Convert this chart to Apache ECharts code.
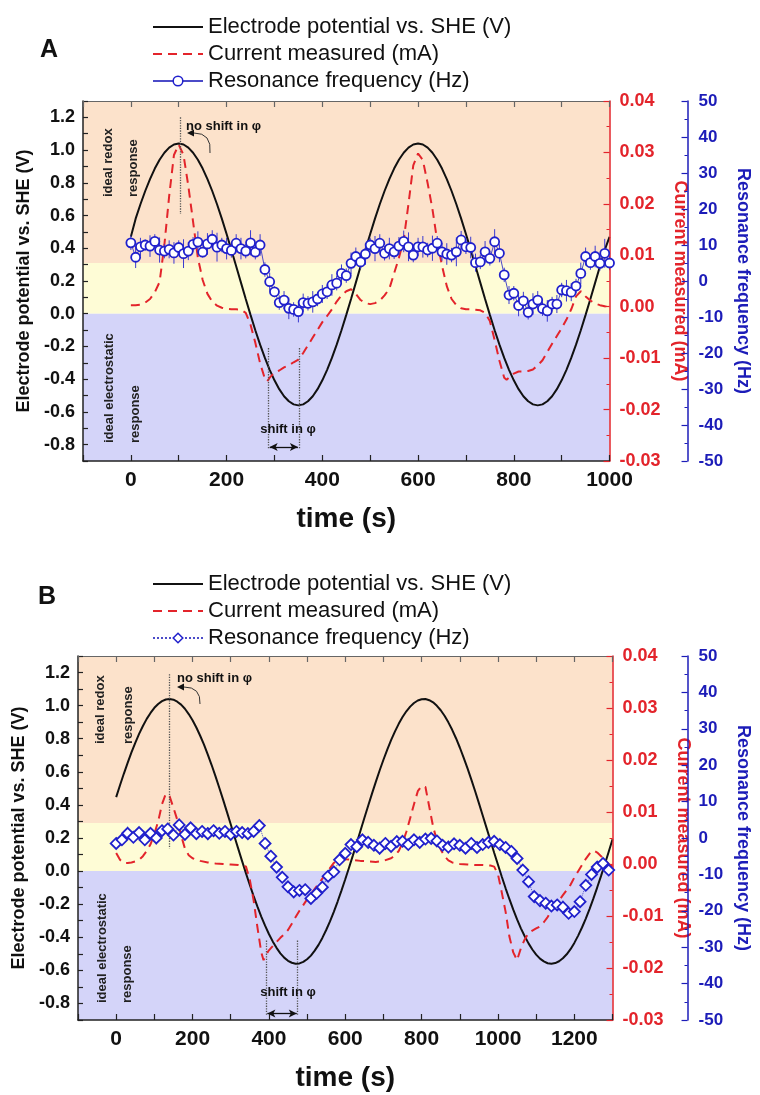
<!DOCTYPE html>
<html><head><meta charset="utf-8">
<script src="https://cdn.jsdelivr.net/npm/echarts@6.0.0/dist/echarts.min.js"></script>
<style>html,body{margin:0;padding:0;background:#fff}#c{width:760px;height:1095px}</style>
</head><body><div id="c"></div>
<script>
const FONT = '"Liberation Sans", Arial, Helvetica, sans-serif';

// ---------- Panel A data ----------
const timeA = [0,10,20,30,40,50,60,70,80,90,100,110,120,130,140,150,160,170,180,190,200,210,220,230,240,250,260,270,280,290,300,310,320,330,340,350,360,370,380,390,400,410,420,430,440,450,460,470,480,490,500,510,520,530,540,550,560,570,580,590,600,610,620,630,640,650,660,670,680,690,700,710,720,730,740,750,760,770,780,790,800,810,820,830,840,850,860,870,880,890,900,910,920,930,940,950,960,970,980,990,1000];
const potentialA = [0.47,0.581,0.669,0.750,0.823,0.887,0.941,0.984,1.015,1.034,1.040,1.034,1.015,0.984,0.941,0.887,0.823,0.750,0.669,0.581,0.487,0.390,0.290,0.190,0.090,-0.007,-0.101,-0.189,-0.270,-0.343,-0.407,-0.461,-0.504,-0.535,-0.554,-0.560,-0.554,-0.535,-0.504,-0.461,-0.407,-0.343,-0.270,-0.189,-0.101,-0.007,0.090,0.190,0.290,0.390,0.487,0.581,0.669,0.750,0.823,0.887,0.941,0.984,1.015,1.034,1.040,1.034,1.015,0.984,0.941,0.887,0.823,0.750,0.669,0.581,0.487,0.390,0.290,0.190,0.090,-0.007,-0.101,-0.189,-0.270,-0.343,-0.407,-0.461,-0.504,-0.535,-0.554,-0.560,-0.554,-0.535,-0.504,-0.461,-0.407,-0.343,-0.270,-0.189,-0.101,-0.007,0.090,0.190,0.290,0.390,0.47];
const currentTimeA = [0,10,20,30,40,50,60,70,80,90,100,110,120,130,140,150,160,170,180,190,200,210,220,230,240,250,260,270,280,285,290,300,310,320,330,340,350,360,370,380,390,400,410,420,430,440,450,460,470,480,490,500,510,520,530,540,550,560,570,580,590,600,610,620,630,640,650,660,670,680,690,700,710,720,730,740,750,760,770,780,785,790,800,810,820,830,840,850,860,870,880,890,900,910,920,930,940,950,960,970,980,990,1000];
const currentA = [0.0003,0.0003,0.0004,0.0008,0.0015,0.0028,0.0048,0.0120,0.0215,0.0295,
  0.0315,0.0295,0.0235,0.0165,0.0095,0.0052,0.0025,0.0010,0.0002,-0.0002,
  -0.0004,-0.0005,-0.0005,-0.0006,-0.0012,-0.0035,-0.0070,-0.0110,-0.0140,-0.0145,
  -0.0138,-0.0128,-0.0124,-0.0118,-0.0114,-0.0108,-0.0103,-0.0090,-0.0075,-0.0060,
  -0.0045,-0.0030,-0.0018,-0.0005,0.0010,0.0022,0.0030,0.0034,0.0025,0.0013,
  0.0007,0.0005,0.0007,0.0012,0.0022,0.0035,0.0065,0.0095,0.0130,0.0200,
  0.0275,0.0298,0.0285,0.0240,0.0190,0.0128,0.0080,0.0040,0.0015,0.0003,
  -0.0003,-0.0005,-0.0005,-0.0006,-0.0007,-0.0012,-0.0028,-0.0065,-0.0105,-0.0138,-0.0142,
  -0.0138,-0.0130,-0.0126,-0.0126,-0.0125,-0.0122,-0.0114,-0.0104,-0.0088,-0.0072,
  -0.0057,-0.0042,-0.0025,-0.0005,0.0020,0.0030,0.0020,0.0012,0.0006,0.0003,0.0001,0.0];
const freqA = [10.6,6.6,9.5,10.0,9.7,11.0,8.6,8.3,8.8,7.8,9.3,7.6,8.3,10.2,10.8,8.0,10.3,11.6,9.4,10.0,9.0,8.5,10.5,9.0,8.3,10.6,8.0,10.0,3.2,-0.2,-3.0,-6.0,-5.3,-7.6,-7.9,-8.5,-6.0,-6.2,-5.8,-5.0,-3.6,-3.0,-1.1,-0.6,2.1,1.5,4.9,6.8,5.3,7.5,10.0,9.0,10.5,7.7,9.0,8.1,9.7,11.0,9.5,7.2,9.5,9.5,8.6,9.1,10.5,8.1,7.5,7.2,8.1,11.4,9.5,9.3,5.1,5.3,8.1,6.3,10.9,7.7,1.7,-3.9,-3.4,-6.8,-5.5,-8.7,-6.4,-5.3,-7.7,-8.3,-6.4,-6.4,-2.5,-2.7,-3.1,-1.4,2.1,6.8,5.1,6.8,4.9,7.7,5.0];
const freqErrA = [2,3,2.5,1.5,3,2,3.5,2,2.5,3,2,4,2.5,2,3,1.5,3,2.5,4,2,3,2,2.5,3,2,3.5,2,3,2,2.5,1.5,2,2.5,3,2,3,2.5,2,3,2,2.5,2,3,2,2.5,2,3,2.5,2,3,2,3.5,2.5,2,3,2,2.5,3,4,2,2.5,3,2,3.5,2,2.5,3,2,4,2.5,2,3,2.5,2,3,2,3.5,2.5,2,2.5,2,3,2.5,2,3,2.5,2,3,2,2.5,2,3,2.5,2,3,2.5,2,3,2,4,2];

// ---------- Panel B data ----------
const timeB = [0,10,20,30,40,50,60,70,80,90,100,110,120,130,140,150,160,170,180,190,200,210,220,230,240,250,260,270,280,290,300,310,320,330,340,350,360,370,380,390,400,410,420,430,440,450,460,470,480,490,500,510,520,530,540,550,560,570,580,590,600,610,620,630,640,650,660,670,680,690,700,710,720,730,740,750,760,770,780,790,800,810,820,830,840,850,860,870,880,890,900,910,920,930,940,950,960,970,980,990,1000,1010,1020,1030,1040,1050,1060,1070,1080,1090,1100,1110,1120,1130,1140,1150,1160,1170,1180,1190,1200,1210,1220,1230,1240,1250,1260,1270,1280,1290,1300];
const potentialB = [0.447,0.519,0.588,0.654,0.717,0.775,0.829,0.877,0.920,0.956,
  0.987,1.010,1.027,1.037,1.040,1.036,1.024,1.006,0.981,0.949,
  0.912,0.868,0.818,0.764,0.704,0.641,0.574,0.504,0.432,0.358,
  0.283,0.208,0.133,0.059,-0.014,-0.084,-0.151,-0.215,-0.275,-0.330,
  -0.380,-0.425,-0.464,-0.497,-0.523,-0.542,-0.554,-0.560,-0.558,-0.549,
  -0.533,-0.511,-0.481,-0.446,-0.404,-0.356,-0.304,-0.246,-0.184,-0.118,
  -0.049,0.022,0.095,0.170,0.245,0.321,0.395,0.468,0.539,0.608,
  0.673,0.734,0.791,0.843,0.890,0.931,0.966,0.994,1.016,1.031,
  1.039,1.040,1.033,1.020,0.999,0.972,0.939,0.899,0.854,0.803,
  0.747,0.686,0.622,0.554,0.484,0.411,0.336,0.261,0.186,0.111,
  0.038,-0.034,-0.104,-0.170,-0.233,-0.292,-0.346,-0.394,-0.437,-0.474,
  -0.505,-0.529,-0.546,-0.557,-0.560,-0.556,-0.545,-0.527,-0.503,-0.472,
  -0.434,-0.390,-0.341,-0.287,-0.228,-0.165,-0.098,-0.029,0.043,0.117,0.192];
const currentTimeB = [0,10,20,30,40,50,60,70,80,90,100,110,120,130,135,140,150,160,170,180,190,200,220,240,260,280,300,320,340,350,360,370,380,386,390,400,410,420,430,440,450,460,470,480,490,500,510,520,530,540,550,560,570,580,590,600,620,640,660,680,700,720,730,740,750,760,770,780,790,800,810,820,830,840,850,860,870,880,900,920,940,960,980,990,1000,1010,1020,1030,1040,1050,1060,1070,1080,1090,1100,1110,1120,1130,1140,1150,1160,1170,1180,1190,1200,1210,1220,1230,1240,1250,1260,1270,1280,1290,1300];
const currentB = [0.0021,0.0008,0.0002,0.0002,0.0003,0.0005,0.0008,0.0015,0.0025,0.0038,
  0.0058,0.0082,0.0115,0.0135,0.0137,
  0.0130,0.0108,0.0085,0.0055,0.0030,0.0017,0.0011,
  0.0006,0.0003,0.0001,0.0,-0.0001,-0.0002,-0.0005,
  -0.0030,-0.0070,-0.0122,-0.0170,-0.0185,
  -0.0178,-0.0166,-0.0158,-0.0150,-0.0142,-0.0135,-0.0127,-0.0115,-0.0102,-0.0090,-0.0079,-0.0068,-0.0058,-0.0048,-0.0038,-0.0028,-0.0018,-0.0008,0.0002,0.0008,0.0010,0.0009,
  0.0008,0.0006,0.0005,0.0004,0.0006,0.0011,
  0.0016,0.0025,0.0040,0.0062,0.0088,0.0115,0.0140,0.0150,0.0148,0.0110,0.0072,0.0045,0.0028,0.0015,0.0007,0.0003,
  0.0,-0.0001,-0.0002,-0.0002,-0.0003,
  -0.0005,-0.0020,-0.0055,-0.0092,-0.0140,-0.0170,-0.0185,-0.0162,-0.0145,-0.0133,
  -0.0128,-0.0124,-0.0120,-0.0112,-0.0102,-0.0090,-0.0080,-0.0070,-0.0060,-0.0050,
  -0.0040,-0.0026,-0.0014,-0.0002,0.0010,0.0020,0.0026,0.0022,0.0015,0.0008,0.0,-0.0005];
const freqTimeB = [0,15,30,45,60,75,90,105,120,135,150,165,180,195,210,225,240,255,270,285,300,315,330,345,360,375,390,405,420,435,450,465,480,495,510,525,540,555,570,585,600,615,630,645,660,675,690,705,720,735,750,765,780,795,810,825,840,855,870,885,900,915,930,945,960,975,990,1005,1020,1035,1050,1065,1080,1095,1110,1125,1140,1155,1170,1185,1200,1215,1230,1245,1260,1275,1290];
const freqB = [-1.5,-0.5,1.3,0.2,1.5,-0.5,1.3,0.0,2.0,2.5,0.8,3.6,1.0,2.8,1.2,1.8,1.2,2.0,1.3,1.8,1.0,1.8,1.5,1.2,1.8,3.4,-1.5,-5.0,-8.0,-10.8,-13.4,-14.8,-14.4,-14.2,-16.6,-15.2,-13.5,-10.5,-9.3,-6.0,-4.2,-1.8,-2.4,-0.5,-1.2,-2.0,-2.8,-1.5,-2.3,-1.0,-0.9,-1.8,-0.5,-1.2,-0.3,-0.1,-0.8,-2.0,-2.5,-1.6,-2.0,-2.8,-1.5,-2.6,-1.8,-1.2,-0.9,-1.8,-2.6,-3.7,-5.6,-8.8,-12.0,-16.1,-17.2,-17.9,-18.7,-18.4,-19.0,-20.7,-20.2,-17.5,-13.0,-10.0,-8.0,-7.0,-8.8];
const freqErrB = [1.5,1,1.8,1.2,1,1.5,1.2,1.8,1,1.4,1.2,1.6,1,1.5,1.3,1,1.8,1.2,1.5,1,1.4,1.2,1.6,1,1.5,1.8,1.2,1.5,1,1.4,1.6,1.2,1,1.5,1.3,1.8,1,1.2,1.5,1.4,1,1.6,1.2,1.5,1,1.4,1.8,1.2,1,1.5,1.3,1.2,1.6,1,1.5,1.2,1.4,1,1.8,1.2,1.5,1,1.4,1.2,1.6,1,1.5,1.3,1.2,1.8,1,1.4,1.5,1.2,1.6,1,1.5,1.2,1.8,1.4,1,1.5,1.2,1.6,1,1.4,1.2];

// ---------- axes / labels ----------
const names = ['Electrode potential vs. SHE (V)','Current measured (mA)','Resonance frequency (Hz)'];

const BLACK = '#111', RED = '#e3242b', BLUE = '#1c1cb8', BLUE_LINE = '#4b4bc8';
const BAND_ORANGE = '#fce2cb', BAND_YELLOW = '#fefcd6', BAND_BLUE = '#d4d4f9';

const zip = (xs, ys) => xs.map((x, i) => [x, ys[i]]);
const zip3 = (xs, ys, es) => xs.map((x, i) => [x, ys[i], es[i]]);

function xAxes(gridIndex, max) {
  return [{
    type: 'value', gridIndex, position: 'bottom', min: -100, max, interval: 100, z: 5,
    name: 'time (s)', nameLocation: 'middle', nameGap: 44,
    nameTextStyle: {fontFamily: FONT, fontWeight: 'bold', fontSize: 28, color: BLACK},
    axisLine: {onZero: false, lineStyle: {color: '#222', width: 1.5}},
    axisTick: {inside: true, length: 6, lineStyle: {color: '#222', width: 1.2}},
    axisLabel: {margin: 9, fontFamily: FONT, fontWeight: 'bold', fontSize: 21, color: BLACK,
      formatter: v => (Math.round(v) % 200 === 0 ? String(Math.round(v)) : '')},
    splitLine: {show: false}
  }, {
    type: 'value', gridIndex, position: 'top', min: -100, max, interval: 100, z: 5,
    axisLine: {onZero: false, lineStyle: {color: '#666', width: 1.2}},
    axisTick: {inside: true, length: 6, lineStyle: {color: '#666', width: 1.2}},
    axisLabel: {show: false}, splitLine: {show: false}
  }];
}
function yAxes(gridIndex, blueOffset) {
  return [{
    type: 'value', gridIndex, position: 'left', min: -0.9, max: 1.3, interval: 0.1, z: 5,
    name: names[0], nameLocation: 'middle', nameRotate: 90, nameGap: 50,
    nameTextStyle: {fontFamily: FONT, fontWeight: 'bold', fontSize: 18, color: BLACK},
    axisLine: {show: true, onZero: false, lineStyle: {color: '#222', width: 1.5}},
    axisTick: {show: true, inside: true, length: 5, lineStyle: {color: '#222', width: 1.2}},
    axisLabel: {margin: 8, fontFamily: FONT, fontWeight: 'bold', fontSize: 18, color: BLACK,
      formatter: v => {
        const k = Math.round(v * 10);
        if (k % 2 !== 0) return '';
        return k === 0 ? '0.0' : (k / 10).toFixed(1);
      }},
    splitLine: {show: false}
  }, {
    type: 'value', gridIndex, position: 'right', min: -0.03, max: 0.04, interval: 0.01, z: 5,
    name: names[1], nameLocation: 'middle', nameRotate: -90, nameGap: 40,
    nameTextStyle: {fontFamily: FONT, fontWeight: 'bold', fontSize: 18, color: RED},
    axisLine: {show: true, onZero: false, lineStyle: {color: RED, width: 1.5}},
    axisTick: {show: true, inside: true, length: 6, lineStyle: {color: RED, width: 1.2}},
    minorTick: {show: true, splitNumber: 2, length: 3, lineStyle: {color: RED, width: 1}},
    axisLabel: {margin: 10, fontFamily: FONT, fontWeight: 'bold', fontSize: 18, color: RED,
      formatter: v => (Math.abs(v) < 1e-9 ? '0.00' : v.toFixed(2))},
    splitLine: {show: false}, minorSplitLine: {show: false}
  }, {
    type: 'value', gridIndex, position: 'right', offset: blueOffset, min: -50, max: 50, interval: 10, z: 5,
    name: names[2], nameLocation: 'middle', nameRotate: -90, nameGap: 38,
    nameTextStyle: {fontFamily: FONT, fontWeight: 'bold', fontSize: 18, color: BLUE},
    axisLine: {show: true, onZero: false, lineStyle: {color: BLUE, width: 1.5}},
    axisTick: {show: true, inside: true, length: 6, lineStyle: {color: BLUE, width: 1.2}},
    minorTick: {show: true, splitNumber: 2, length: 3, lineStyle: {color: BLUE, width: 1}},
    axisLabel: {margin: 11, fontFamily: FONT, fontWeight: 'bold', fontSize: 17, color: BLUE,
      formatter: v => String(Math.round(v))},
    splitLine: {show: false}, minorSplitLine: {show: false}
  }];
}

function bands(yellowTop) {
  return {
    silent: true,
    data: [
      [{yAxis: yellowTop, itemStyle: {color: BAND_ORANGE}}, {yAxis: 1.3}],
      [{yAxis: 0.0, itemStyle: {color: BAND_YELLOW}}, {yAxis: yellowTop}],
      [{yAxis: -0.9, itemStyle: {color: BAND_BLUE}}, {yAxis: 0.0}]
    ]
  };
}
// dotted guide lines + double arrow (potential axis)
function notes(noShiftT, noShiftTop, noShiftBottom, s1, s2, shiftTop, shiftBottom, arrowV) {
  return {
    silent: true, animation: false, symbol: ['none', 'none'], label: {show: false},
    lineStyle: {type: 'dotted', color: '#555', width: 1.3},
    data: [
      [{coord: [noShiftT, noShiftTop]}, {coord: [noShiftT, noShiftBottom]}],
      [{coord: [s1, shiftTop]}, {coord: [s1, shiftBottom]}],
      [{coord: [s2, shiftTop]}, {coord: [s2, shiftBottom]}],
      [{coord: [s1 + 2, arrowV], symbol: 'arrow', symbolSize: [6, 8], lineStyle: {type: 'solid', color: '#111', width: 1.3}},
       {coord: [s2 - 2, arrowV], symbol: 'arrow', symbolSize: [6, 8]}]
    ]
  };
}
function errRender(color) {
  return (params, api) => {
    const x = api.value(0), y = api.value(1), e = api.value(2);
    const a = api.coord([x, y - e]), b = api.coord([x, y + e]);
    return {type: 'line', shape: {x1: a[0], y1: a[1], x2: b[0], y2: b[1]}, style: {stroke: color, lineWidth: 1}};
  };
}

function panelSeries(prefix, xi, yi, pT, pV, cT, cV, fT, fV, fE, yellowTop, ann, blueStyle) {
  return [{
    name: prefix + names[0], type: 'line', xAxisIndex: xi, yAxisIndex: yi, z: 2,
    data: zip(pT, pV), symbol: 'none', lineStyle: {color: BLACK, width: 2}, itemStyle: {color: BLACK},
    markArea: bands(yellowTop), markLine: ann, animation: false
  }, {
    name: prefix + names[1], type: 'line', xAxisIndex: xi, yAxisIndex: yi + 1, z: 3,
    data: zip(cT, cV), symbol: 'none', lineStyle: {color: RED, width: 2, type: [9, 6]}, itemStyle: {color: RED},
    animation: false
  }, {
    name: prefix + 'err', type: 'custom', xAxisIndex: xi, yAxisIndex: yi + 2, z: 4, silent: true,
    data: zip3(fT, fV, fE), encode: {x: 0, y: 1}, renderItem: errRender(blueStyle.err), animation: false
  }, {
    name: prefix + names[2], type: 'line', xAxisIndex: xi, yAxisIndex: yi + 2, z: 5,
    data: zip(fT, fV), symbol: blueStyle.symbol, symbolSize: blueStyle.size, showSymbol: true,
    lineStyle: {color: BLUE_LINE, width: 1, type: blueStyle.lineType},
    itemStyle: {color: '#ffffff', borderColor: '#2020cc', borderWidth: 1.8},
    animation: false
  }];
}

function rotText(x, yBottom, text) {
  return {type: 'text', x, y: yBottom, rotation: Math.PI / 2, z: 100,
    style: {text, font: 'bold 13px ' + FONT, fill: '#222', align: 'left', verticalAlign: 'middle', textAlign: 'left', textVerticalAlign: 'middle'}};
}
function plainText(x, y, text, font, align) {
  return {type: 'text', x, y, z: 100,
    style: {text, font, fill: '#111', align: align || 'left', verticalAlign: 'middle', textAlign: align || 'left', textVerticalAlign: 'middle'}};
}
// small hooked arrow next to "no shift in φ"
function hookArrow(x0, y0, cx, cy, x1, y1) {
  return [
    {type: 'bezierCurve', z: 100, silent: true,
      shape: {x1: x0, y1: y0, x2: x1, y2: y1, cpx1: cx, cpy1: cy},
      style: {stroke: '#333', lineWidth: 1, fill: null}},
    {type: 'polygon', z: 100, silent: true,
      shape: {points: [[x1 - 7, y1], [x1, y1 - 3.5], [x1, y1 + 3.5]]},
      style: {fill: '#111'}}
  ];
}

const legendCommon = {
  orient: 'vertical', itemWidth: 50, itemHeight: 12, itemGap: 5, selectedMode: false,
  textStyle: {fontFamily: FONT, fontSize: 22, color: BLACK}
};
function legendData(prefix) {
  return [
    {name: prefix + names[0], itemStyle: {opacity: 0}},
    {name: prefix + names[1], itemStyle: {opacity: 0}},
    {name: prefix + names[2], itemStyle: {borderWidth: 1.5}}
  ];
}

const option = {
  backgroundColor: '#ffffff',
  animation: false,
  grid: [
    {left: 83, right: 143, top: 101, height: 360, containLabel: false},
    {left: 78, right: 140, top: 656, height: 364, containLabel: false}
  ],
  legend: [
    Object.assign({}, legendCommon, {left: 147, top: 11, data: legendData('')}),
    Object.assign({}, legendCommon, {left: 147, top: 568, data: legendData('B:'), formatter: n => n.slice(2)})
  ],
  xAxis: [...xAxes(0, 1000), ...xAxes(1, 1300)],
  yAxis: [...yAxes(0, 78), ...yAxes(1, 75)],
  series: [
    ...panelSeries('', 0, 0, timeA, potentialA, currentTimeA, currentA, timeA, freqA, freqErrA, 0.31,
      notes(103, 1.2, 0.61, 288, 351, -0.21, -0.83, -0.815),
      {symbol: 'circle', size: 9, lineType: 'solid', err: '#3a3ad0'}),
    ...panelSeries('B:', 2, 3, timeB, potentialB, currentTimeB, currentB, freqTimeB, freqB, freqErrB, 0.29,
      notes(138, 1.19, 0.135, 394, 475, -0.42, -0.87, -0.86),
      {symbol: 'diamond', size: 11, lineType: 'dotted', err: '#6a6ad8'})
  ],
  graphic: [
    plainText(49, 50, 'A', 'bold 25px ' + FONT, 'center'),
    plainText(47, 597, 'B', 'bold 25px ' + FONT, 'center'),
    rotText(108, 197, 'ideal redox'),
    rotText(133, 197, 'response'),
    rotText(109, 443, 'ideal electrostatic'),
    rotText(135, 443, 'response'),
    rotText(100, 744, 'ideal redox'),
    rotText(128, 744, 'response'),
    rotText(102, 1003, 'ideal electrostatic'),
    rotText(127, 1003, 'response'),
    plainText(186, 126, 'no shift in φ', 'bold 13px ' + FONT, 'left'),
    plainText(177, 678, 'no shift in φ', 'bold 13px ' + FONT, 'left'),
    plainText(288, 429, 'shift in φ', 'bold 13px ' + FONT, 'center'),
    plainText(288, 992, 'shift in φ', 'bold 13px ' + FONT, 'center'),
    ...hookArrow(210, 153, 212, 133, 194, 133),
    ...hookArrow(200, 704, 201, 687, 184, 687)
  ]
};

const chart = echarts.init(document.getElementById('c'), null, {renderer: 'canvas', width: 760, height: 1095});
chart.setOption(option);
</script></body></html>
